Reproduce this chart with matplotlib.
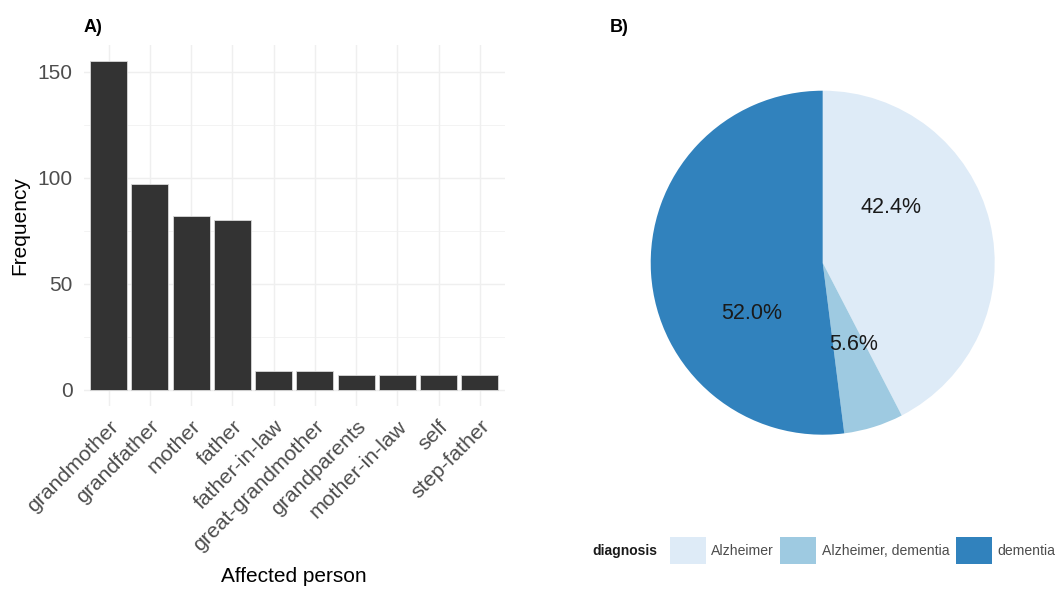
import numpy as np
import matplotlib
matplotlib.use('Agg')
import matplotlib.pyplot as plt
import matplotlib.patches as mpatches

# DATA
# ----
persons = ['grandmother', 'grandfather', 'mother', 'father', 'father-in-law',
           'great-grandmother', 'grandparents', 'mother-in-law', 'self', 'step-father']
frequency = [155, 97, 82, 80, 9, 9, 7, 7, 7, 7]

diagnoses = ['Alzheimer', 'Alzheimer, dementia', 'dementia']
diagnosis_pct = [42.4, 5.6, 52.0]
diagnosis_colors = ['#DEEBF7', '#9ECAE1', '#3182BD']

# LAYOUT
# ------
W, H = 1058, 593
GRID = '#EFEFEF'
TICK_COLOR = '#4D4D4D'
# where the percent labels sit (degrees clockwise from 12 o'clock, as in the reference)
PIE_LABEL_ANGLES = [51.0, 159.6, 234.5]
PIE_LABEL_RADIUS = 0.51

plt.rcParams['font.family'] = ['Liberation Sans', 'DejaVu Sans']

fig = plt.figure(figsize=(W / 100, H / 100), dpi=100)


def px_box(x0, y0, x1, y1):
    """Pixel box (top-left origin) -> figure fraction rect"""
    return [x0 / W, 1 - y1 / H, (x1 - x0) / W, (y1 - y0) / H]


# PANEL A: bar chart
# ------------------
ax = fig.add_axes(px_box(83.9, 44.6, 504.6, 406.4))
x = np.arange(1, len(persons) + 1)
ax.bar(x, frequency, width=0.9, color='#333333', edgecolor='#d9d9d9', linewidth=0.6, zorder=3)
ax.set_xlim(0.4, len(persons) + 0.6)
ymax = max(frequency)
ax.set_ylim(-0.05 * ymax, 1.05 * ymax)

ax.set_yticks([0, 50, 100, 150])
ax.set_yticks([25, 75, 125], minor=True)
ax.set_xticks(x)
ax.set_xticklabels(persons, rotation=45, ha='right', va='top', rotation_mode='anchor')
ax.grid(True, which='major', color=GRID, linewidth=1.0, zorder=0)
ax.grid(True, which='minor', axis='y', color=GRID, linewidth=0.5, zorder=0)
ax.tick_params(axis='both', which='both', length=0, labelsize=15, labelcolor=TICK_COLOR)
ax.tick_params(axis='y', pad=8)
ax.tick_params(axis='x', pad=7.5, labelsize=15.3)
for s in ax.spines.values():
    s.set_visible(False)
ax.set_ylabel('Frequency', fontsize=15, labelpad=6)
ax.set_xlabel('Affected person', fontsize=15, labelpad=9)
fig.text(84 / W, 1 - 28 / H, 'A)', fontsize=13, fontweight='bold', va='center', ha='left')

# PANEL B: pie chart
# ------------------
ax2 = fig.add_axes(px_box(650.7, 90.7, 994.7, 434.7))
wedges, _ = ax2.pie(diagnosis_pct, colors=diagnosis_colors, startangle=90,
                    counterclock=False, radius=1.0)
for pct, ang in zip(diagnosis_pct, PIE_LABEL_ANGLES):
    th = np.deg2rad(ang)
    ax2.text(PIE_LABEL_RADIUS * np.sin(th), PIE_LABEL_RADIUS * np.cos(th), f'{pct:.1f}%',
             ha='center', va='center', fontsize=15.5, color='#1a1a1a')
ax2.set_xlim(-1, 1)
ax2.set_ylim(-1, 1)
ax2.set_aspect('equal')
ax2.axis('off')
fig.text(610 / W, 1 - 28 / H, 'B)', fontsize=13, fontweight='bold', va='center', ha='left')

# legend along the bottom of panel B
handles = [mpatches.Patch(facecolor=c, edgecolor='none') for c in diagnosis_colors]
fig.legend(handles, diagnoses, loc='center left', bbox_to_anchor=(670 / W, 1 - 550.5 / H),
           ncol=3, frameon=False, fontsize=10.1, borderpad=0, borderaxespad=0,
           handlelength=2.55, handleheight=2.55, handletextpad=0.4, columnspacing=0.45,
           labelcolor=TICK_COLOR)
fig.text(592.7 / W, 1 - 550.5 / H, 'diagnosis', fontsize=10, fontweight='bold',
         va='center', ha='left', color='#1a1a1a')

fig.savefig('out.png', dpi=100, facecolor='white')
